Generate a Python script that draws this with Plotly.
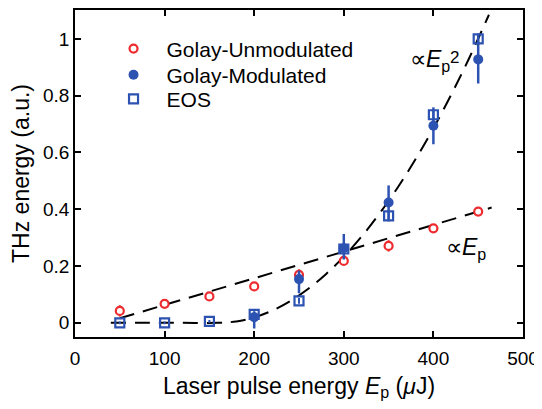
import plotly.graph_objects as go

# ---- data ----
pulse_energy = [50, 100, 150, 200, 250, 300, 350, 400, 450]

unmod_y = [0.042, 0.067, 0.093, 0.128, 0.169, 0.218, 0.271, 0.333, 0.392]
unmod_err = [0.02, 0.015, 0.015, 0.015, 0.02, 0.015, 0.02, 0.015, 0.015]

mod_x = [200, 250, 300, 350, 400, 450]
mod_y = [0.02, 0.154, 0.263, 0.424, 0.694, 0.928]
mod_err_plus = [0.02, 0.03, 0.05, 0.06, 0.065, 0.085]
mod_err_minus = [0.04, 0.05, 0.04, 0.06, 0.065, 0.085]

eos_y = [0.0, 0.0, 0.005, 0.03, 0.077, 0.26, 0.377, 0.733, 1.0]
eos_err = [0.005, 0.005, 0.005, 0.01, 0.01, 0.01, 0.02, 0.02, 0.02]

# fit curves (parameters of the dashed guides)
lin_slope, lin_offset = 0.00094, 33.0
lin_x = [50, 100, 150, 200, 250, 300, 350, 400, 450, 465]
quad_coef, quad_threshold = 1.19e-5, 160.0
quad_x = [40, 80, 120, 160, 180, 200, 220, 240, 260, 280, 300, 320, 340, 360,
          380, 400, 420, 440, 462]

x_ticks = [0, 100, 200, 300, 400, 500]
y_ticks = [0, 0.2, 0.4, 0.6, 0.8, 1.0]

RED = "#ee2b2f"
BLUE = "#2c52b2"
FONT = "Liberation Sans, Arial, sans-serif"

lin_y = [lin_slope * (x - lin_offset) for x in lin_x]
quad_y = [quad_coef * max(x - quad_threshold, 0) ** 2 for x in quad_x]

fig = go.Figure()

DASH = dict(color="black", width=2, dash="15px,9px")
fig.add_trace(go.Scatter(x=lin_x, y=lin_y, mode="lines", showlegend=False,
                         line=DASH, hoverinfo="skip"))
fig.add_trace(go.Scatter(x=quad_x, y=quad_y, mode="lines", showlegend=False,
                         line=dict(DASH, shape="spline"), hoverinfo="skip"))

fig.add_trace(go.Scatter(
    x=pulse_energy, y=unmod_y, mode="markers", name="Golay-Unmodulated", legend="legend",
    marker=dict(symbol="circle", size=8, color="white", line=dict(color=RED, width=2.2)),
    error_y=dict(type="data", array=unmod_err, color=RED, thickness=2, width=0)))
fig.add_trace(go.Scatter(
    x=mod_x, y=mod_y, mode="markers", name="Golay-Modulated", legend="legend2",
    marker=dict(symbol="circle", size=10, color=BLUE),
    error_y=dict(type="data", array=mod_err_plus, arrayminus=mod_err_minus,
                 color=BLUE, thickness=2.5, width=0)))
fig.add_trace(go.Scatter(
    x=pulse_energy, y=eos_y, mode="markers", name="EOS", legend="legend3",
    marker=dict(symbol="square-open", size=9, color=BLUE, line=dict(color=BLUE, width=2.2)),
    error_y=dict(type="data", array=eos_err, color=BLUE, thickness=2, width=0)))

axis_common = dict(showline=True, linecolor="black", linewidth=1.5, mirror="ticks",
                   ticks="inside", ticklen=6, tickwidth=1.5, tickcolor="black",
                   showgrid=False, zeroline=False, automargin=False,
                   tickfont=dict(family=FONT, size=19, color="black"))

fig.update_xaxes(range=[0, 500], tickvals=x_ticks, ticklabelstandoff=3,
                 title=dict(text="Laser pulse energy <i>E</i><sub>p</sub> (<i>μ</i>J)",
                            font=dict(family=FONT, size=23, color="black"), standoff=10),
                 **axis_common)
fig.update_yaxes(range=[-0.05, 1.102], tickvals=y_ticks,
                 title=dict(text="THz energy (a.u.)",
                            font=dict(family=FONT, size=23, color="black"), standoff=10),
                 **axis_common)

fig.add_annotation(x=372, y=0.923, xref="x", yref="y", xanchor="left", yanchor="middle",
                   text="∝<i>E</i><sub>p</sub>", showarrow=False,
                   font=dict(family=FONT, size=23, color="black"))
fig.add_annotation(x=416, y=0.935, xref="x", yref="y", xanchor="left", yanchor="middle",
                   text="2", showarrow=False,
                   font=dict(family=FONT, size=17, color="black"))
fig.add_annotation(x=412, y=0.262, xref="x", yref="y", xanchor="left", yanchor="middle",
                   text="∝<i>E</i><sub>p</sub>", showarrow=False,
                   font=dict(family=FONT, size=23, color="black"))

legend_common = dict(x=0.057, xanchor="left", yanchor="middle",
                     bgcolor="rgba(0,0,0,0)", borderwidth=0, itemwidth=56,
                     font=dict(family=FONT, size=21, color="black"))

# the page body has an 8px margin, so the figure is 8px smaller than the window
fig.update_layout(
    width=534, height=401,
    margin=dict(l=67, r=19, t=2, b=72),
    paper_bgcolor="white", plot_bgcolor="white",
    font=dict(family=FONT, color="black"),
    legend=dict(legend_common, y=0.881),
    legend2=dict(legend_common, y=0.801),
    legend3=dict(legend_common, y=0.727),
)

fig.write_html("out.html")
